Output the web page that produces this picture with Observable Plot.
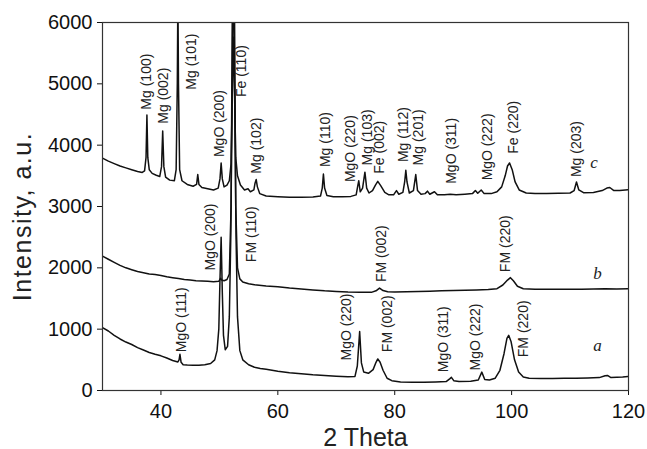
<!DOCTYPE html>
<html>
<head>
<meta charset="utf-8">
<script src="https://cdn.jsdelivr.net/npm/d3@7"></script>
<script src="https://cdn.jsdelivr.net/npm/@observablehq/plot@0.6"></script>
<style>
  html, body { margin: 0; padding: 0; background: white; }
</style>
</head>
<body>
<div id="chart"></div>
<script>
// ---- Data (2θ in degrees, intensity in a.u.) ----
const curveC = [
  [30,3790],[31,3740],[32,3700],[33,3660],[34,3630],[35,3600],[36,3570],[36.8,3555],[37.2,3580],[37.45,3800],[37.6,4490],[37.75,3800],[38.0,3600],[38.5,3540],[39.2,3510],[39.8,3490],[40.1,3650],[40.3,4230],[40.5,3650],[40.8,3480],[41.5,3430],[42.3,3420],[42.6,3600],[42.8,5000],[42.9,6500],[43.0,5000],[43.2,3600],[43.6,3420],[44.5,3360],[45.5,3330],[46.1,3360],[46.3,3520],[46.5,3360],[47,3310],[48,3290],[49,3270],[49.8,3300],[50.1,3450],[50.3,3710],[50.5,3450],[50.8,3320],[51.3,3350],[51.7,3420],[52.0,3700],[52.2,4800],[52.4,5760],[52.6,4800],[52.8,3800],[53.1,3500],[53.6,3350],[54.3,3270],[54.9,3290],[55.3,3240],[55.9,3270],[56.1,3380],[56.3,3440],[56.5,3320],[56.9,3210],[58,3170],[60,3160],[62,3150],[64,3150],[66,3155],[67.3,3170],[67.6,3300],[67.8,3530],[68.0,3300],[68.4,3180],[69.5,3160],[71,3160],[72.5,3165],[73.4,3190],[73.7,3350],[73.85,3420],[74.1,3240],[74.5,3300],[74.9,3560],[75.2,3300],[75.6,3220],[76.2,3260],[76.7,3350],[77.1,3410],[77.6,3340],[78.3,3230],[79,3190],[79.8,3190],[80.3,3260],[80.7,3200],[81.4,3230],[81.7,3400],[81.9,3590],[82.1,3400],[82.5,3220],[83.2,3260],[83.6,3520],[83.9,3260],[84.5,3200],[85.2,3210],[85.6,3250],[86,3200],[86.8,3240],[87.3,3190],[88.5,3190],[89.5,3200],[90.5,3190],[92,3200],[93.3,3210],[93.8,3260],[94.2,3215],[94.8,3270],[95.3,3210],[96.5,3210],[97.5,3240],[98.3,3320],[98.9,3500],[99.3,3660],[99.65,3710],[100.1,3600],[100.6,3400],[101.3,3270],[102.5,3220],[104,3210],[106,3210],[108,3215],[110,3220],[110.7,3260],[111.1,3400],[111.5,3270],[112.3,3225],[114,3230],[115.5,3260],[116.3,3300],[116.8,3310],[117.5,3260],[118.5,3260],[120,3275]
];
const curveB = [
  [30,2190],[31,2140],[32,2090],[33,2040],[34,2000],[35,1970],[36,1940],[37,1920],[38,1900],[39,1890],[40,1875],[41,1855],[42,1840],[43,1825],[44,1810],[45,1800],[46,1790],[47,1785],[48,1780],[49,1775],[49.9,1780],[50.2,1830],[50.4,1800],[50.8,1790],[51.3,1810],[51.7,1900],[52.0,3000],[52.2,6000],[52.4,7000],[52.6,6000],[52.8,3000],[53.1,2000],[53.5,1820],[54,1770],[55,1740],[56,1725],[58,1705],[60,1690],[62,1670],[64,1655],[66,1640],[68,1625],[70,1615],[72,1605],[74,1600],[76,1600],[76.8,1625],[77.4,1670],[78,1630],[78.8,1610],[80,1605],[82,1610],[84,1615],[86,1620],[88,1625],[90,1630],[92,1635],[94,1640],[96,1645],[97.5,1660],[98.5,1720],[99.3,1800],[99.8,1840],[100.3,1790],[101,1700],[102,1660],[104,1650],[106,1650],[108,1650],[110,1650],[112,1652],[114,1655],[116,1660],[118,1655],[120,1660]
];
const curveA = [
  [30,1025],[31,970],[32,900],[33,840],[34,790],[35,750],[36,700],[37,660],[38,620],[39,590],[40,565],[41,530],[42,490],[42.9,465],[43.1,500],[43.25,590],[43.45,460],[43.8,420],[44.5,415],[45.5,410],[46.5,410],[47.5,420],[48.5,440],[49.2,500],[49.6,650],[49.9,1000],[50.1,1800],[50.3,2500],[50.5,1600],[50.7,900],[51.0,665],[51.4,720],[51.7,1200],[51.95,2500],[52.2,5000],[52.4,7500],[52.6,5000],[52.85,2500],[53.1,1200],[53.5,650],[54,500],[55,420],[56,380],[57,360],[58,345],[59,330],[60,315],[62,290],[64,272],[66,255],[68,243],[70,232],[72,225],[73.2,230],[73.6,400],[74.0,960],[74.3,450],[74.7,300],[75.5,280],[76.3,340],[76.8,460],[77.1,515],[77.5,460],[78,330],[78.7,200],[79.5,160],[81,140],[83,135],[85,135],[87,140],[88.8,145],[89.4,190],[89.7,215],[90.1,160],[91,145],[93,150],[94.3,170],[94.9,300],[95.4,180],[96.2,170],[97.2,200],[98,330],[98.7,600],[99.2,850],[99.5,900],[99.9,800],[100.5,500],[101.2,300],[102,220],[103,200],[105,195],[107,195],[109,200],[111,200],[113,205],[115,210],[116,240],[116.4,245],[117,210],[118,215],[119,220],[120,228]
];

// Peak annotations: name, 2θ position, intensity at the label's lower end
const peakNames = ["Mg (100)","Mg (002)","Mg (101)","MgO (200)","Fe (110)","Mg (102)","Mg (110)","MgO (220)","Mg (103)","Fe (002)","Mg (112)","Mg (201)","MgO (311)","MgO (222)","Fe (220)","Mg (203)",
                   "MgO (200)","FM (110)","FM (002)","FM (220)",
                   "MgO (111)","MgO (220)","FM (002)","MgO (311)","MgO (222)","FM (220)"];
const peakX = [37.54,40.4,45.26,50.1,53.83,56.4,68.1,72.4,75.26,77.4,81.5,84.1,89.8,95.8,100.4,111.1,
               48.5,55.5,77.8,99.0,
               43.5,71.8,78.7,88.3,93.8,102.1];
const peakY = [4579,4350,4905,3806,4785,3535,3643,3398,3670,3535,3724,3670,3370,3426,3861,3480,
               1958,2093,1767,1930,
               625,489,625,299,326,543];

// Sample letters
const sampleNames = ["c","b","a"];
const sampleX = [114.1,114.7,114.7];
const sampleY = [3724,1903,734];

const xTicks = [40,60,80,100,120];
const yTicks = [0,1000,2000,3000,4000,5000,6000];
const xTitle = "2 Theta";
const yTitle = "Intensity, a.u.";

// ---- Build tables ----
const toRows = (arr) => arr.map(([x,y]) => ({x, y}));
const peaks = peakNames.map((name, i) => ({name, x: peakX[i], y: peakY[i]}));
const samples = sampleNames.map((name, i) => ({name, x: sampleX[i], y: sampleY[i]}));

const chart = Plot.plot({
  width: 647,
  height: 449,
  marginLeft: 102,
  marginRight: 19,
  marginTop: 22,
  marginBottom: 59,
  x: {domain: [30, 120]},
  y: {domain: [0, 6000]},
  style: {fontFamily: "'Liberation Sans', Arial, sans-serif", fontSize: "20px", color: "#111", background: "white"},
  marks: [
    Plot.axisX({ticks: xTicks, tickSize: 5, tickPadding: 8, label: null, tickFormat: d => String(d)}),
    Plot.axisY({ticks: yTicks, tickSize: 5, tickPadding: 5, label: null, tickFormat: d => String(d)}),
    Plot.line(toRows(curveA), {x: "x", y: "y", stroke: "#111", strokeWidth: 1.5, clip: true}),
    Plot.line(toRows(curveB), {x: "x", y: "y", stroke: "#111", strokeWidth: 1.5, clip: true}),
    Plot.line(toRows(curveC), {x: "x", y: "y", stroke: "#111", strokeWidth: 1.5, clip: true}),
    Plot.frame({stroke: "#333", strokeWidth: 1.2}),
    Plot.text(peaks, {x: "x", y: "y", text: "name", rotate: -90, textAnchor: "start", fontSize: 14, fill: "#222"}),
    Plot.text(samples, {x: "x", y: "y", text: "name", fontSize: 17, fontStyle: "italic", fontFamily: "'Liberation Serif', 'Times New Roman', serif", fill: "#222"}),
    Plot.text([yTitle], {frameAnchor: "left", textAnchor: "middle", lineAnchor: "middle", dx: -80, dy: 10, rotate: -90, fontSize: 25, fill: "#222"}),
    Plot.text([xTitle], {frameAnchor: "bottom", textAnchor: "middle", lineAnchor: "bottom", dy: 55, fontSize: 25, fill: "#222"})
  ]
});
// widen the y title's letter spacing to match the reference's wider face
d3.select(chart).selectAll("text").filter(function() { return this.textContent === yTitle; }).attr("letter-spacing", "1.5px");
document.getElementById("chart").appendChild(chart);
</script>
</body>
</html>
